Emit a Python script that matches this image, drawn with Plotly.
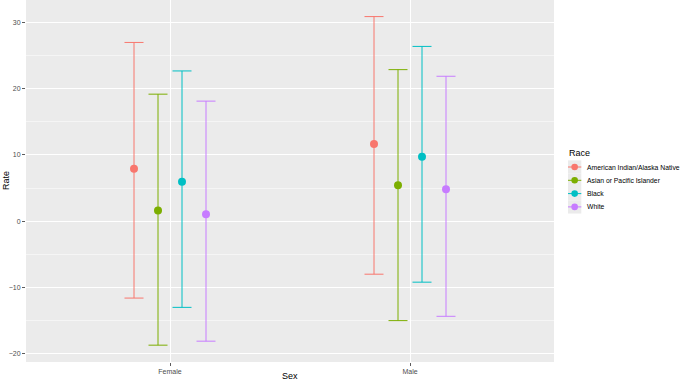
import plotly.graph_objects as go

sexes = ["Female", "Male"]
races = ["American Indian/Alaska Native", "Asian or Pacific Islander", "Black", "White"]
colors = ["#F8766D", "#7CAE00", "#00BFC4", "#C77CFF"]

rate = {
    "American Indian/Alaska Native": [7.9, 11.65],
    "Asian or Pacific Islander": [1.6, 5.4],
    "Black": [5.95, 9.7],
    "White": [1.05, 4.8],
}
lower = {
    "American Indian/Alaska Native": [-11.6, -8.0],
    "Asian or Pacific Islander": [-18.7, -15.0],
    "Black": [-13.0, -9.2],
    "White": [-18.1, -14.35],
}
upper = {
    "American Indian/Alaska Native": [26.95, 30.85],
    "Asian or Pacific Islander": [19.15, 22.85],
    "Black": [22.65, 26.35],
    "White": [18.1, 21.85],
}
y_ticks = [-20, -10, 0, 10, 20, 30]
y_minor = [-15, -5, 5, 15, 25]

W, H = 683, 382
L, R, T, B = 26, 554, 0, 362
dodge = [-0.15, -0.05, 0.05, 0.15]

fig = go.Figure()
for i, r in enumerate(races):
    xs = [k + 1 + dodge[i] for k in range(len(sexes))]
    ys = rate[r]
    fig.add_trace(go.Scatter(
        x=xs, y=ys, mode="markers",
        marker=dict(color=colors[i], size=8),
        error_y=dict(type="data", symmetric=False,
                     array=[u - m for u, m in zip(upper[r], ys)],
                     arrayminus=[m - l for m, l in zip(ys, lower[r])],
                     color=colors[i], thickness=1, width=9.5),
        showlegend=False, name=r, hoverinfo="skip",
    ))

def px(x):
    return (x - L) / (R - L)

def py(y):
    return 1 - (y - T) / (B - T)

shapes = []
annotations = []
# legend
annotations.append(dict(text="Race", x=px(567), y=py(153), xref="paper", yref="paper",
                        xanchor="left", yanchor="middle", showarrow=False,
                        font=dict(size=9, color="#000000")))
key_y = [167, 180.3, 193.6, 206.9]
for i, r in enumerate(races):
    yc = key_y[i]
    shapes.append(dict(type="rect", xref="paper", yref="paper",
                       x0=px(568), x1=px(581.3), y0=py(yc - 6.65), y1=py(yc + 6.65),
                       fillcolor="#EBEBEB", line=dict(width=0), layer="above"))
    shapes.append(dict(type="line", xref="paper", yref="paper",
                       x0=px(568), x1=px(581.3), y0=py(yc), y1=py(yc),
                       line=dict(color=colors[i], width=1), layer="above"))
    shapes.append(dict(type="circle", xref="paper", yref="paper",
                       x0=px(574.65 - 3.3), x1=px(574.65 + 3.3), y0=py(yc - 3.3), y1=py(yc + 3.3),
                       fillcolor=colors[i], line=dict(width=0), layer="above"))
    annotations.append(dict(text=r, x=px(585), y=py(yc), xref="paper", yref="paper",
                            xanchor="left", yanchor="middle", showarrow=False,
                            font=dict(size=6.8, color="#000000")))
# axis titles
annotations.append(dict(text="Sex", x=px(290), y=py(376), xref="paper", yref="paper",
                        xanchor="center", yanchor="middle", showarrow=False,
                        font=dict(size=9, color="#000000")))
annotations.append(dict(text="Rate", x=px(6), y=py(181), xref="paper", yref="paper",
                        xanchor="center", yanchor="middle", showarrow=False, textangle=-90,
                        font=dict(size=9, color="#000000")))

fig.update_layout(
    width=W, height=H,
    margin=dict(l=L, r=W - R, t=T, b=H - B, autoexpand=False),
    paper_bgcolor="white", plot_bgcolor="#EBEBEB",
    font=dict(family="Liberation Sans, Arial, sans-serif"),
    shapes=shapes, annotations=annotations,
    showlegend=False,
)
fig.update_xaxes(
    range=[0.4, 2.6], tickvals=[1, 2], ticktext=sexes, automargin=False,
    showgrid=True, gridcolor="white", gridwidth=1, zeroline=False,
    ticks="outside", ticklen=3, tickcolor="#333333", tickwidth=0.8,
    tickfont=dict(size=7, color="#4D4D4D"), showline=False,
)
fig.update_yaxes(
    range=[-21.24, 33.35], tickvals=y_ticks, automargin=False,
    showgrid=True, gridcolor="white", gridwidth=1, zeroline=False,
    ticks="outside", ticklen=3, tickcolor="#333333", tickwidth=0.8,
    tickfont=dict(size=7, color="#4D4D4D"), showline=False,
    minor=dict(tickvals=y_minor, showgrid=True, gridcolor="white", gridwidth=0.5, ticks=""),
)

fig.write_html("out.html", config={"displayModeBar": False, "staticPlot": True},
               post_script="document.body.style.margin='0px';document.body.style.overflow='hidden';")
